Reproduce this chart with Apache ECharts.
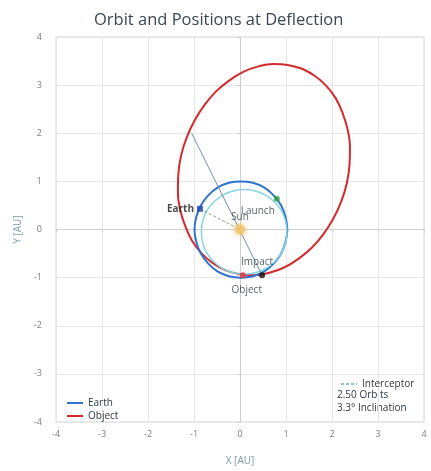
<!DOCTYPE html>
<html>
<head>
<meta charset="utf-8">
<script src="https://cdn.jsdelivr.net/npm/echarts@6/dist/echarts.min.js"></script>
<style>
  html, body { margin: 0; padding: 0; background: #ffffff; }
  #chart { width: 431px; height: 471px; }
</style>
</head>
<body>
<div id="chart"></div>
<script>
// Axis ticks (AU)
const axisTicks = [-4, -3, -2, -1, 0, 1, 2, 3, 4];

// Earth orbit, sampled every 15 degrees [x, y] in AU
const earthOrbit = [
  [1.03, 0], [0.99, 0.26], [0.89, 0.51], [0.73, 0.71], [0.53, 0.87], [0.28, 0.97],
  [0.02, 1.0], [-0.24, 0.97], [-0.49, 0.87], [-0.69, 0.71], [-0.85, 0.5], [-0.95, 0.26],
  [-0.99, 0], [-0.95, -0.26], [-0.85, -0.5], [-0.69, -0.71], [-0.49, -0.87], [-0.24, -0.97],
  [0.02, -1.0], [0.28, -0.97], [0.53, -0.87], [0.73, -0.71], [0.89, -0.51], [0.99, -0.26],
  [1.03, 0]
];

// Object (asteroid) orbit, sampled every 10 degrees of anomaly [x, y] in AU
const objectOrbit = [
  [1.35, 3.34], [1.04, 3.42], [0.72, 3.44], [0.40, 3.39], [0.08, 3.28], [-0.23, 3.10],
  [-0.52, 2.87], [-0.77, 2.59], [-0.99, 2.26], [-1.16, 1.91], [-1.28, 1.54], [-1.34, 1.15],
  [-1.35, 0.77], [-1.30, 0.41], [-1.19, 0.07], [-1.04, -0.24], [-0.83, -0.50], [-0.59, -0.70],
  [-0.31, -0.85], [0.00, -0.93], [0.32, -0.95], [0.64, -0.90], [0.96, -0.79], [1.27, -0.61],
  [1.56, -0.38], [1.81, -0.10], [2.03, 0.23], [2.20, 0.58], [2.32, 0.95], [2.38, 1.34],
  [2.39, 1.72], [2.34, 2.08], [2.23, 2.42], [2.08, 2.73], [1.87, 2.99], [1.63, 3.19],
  [1.35, 3.34]
];

// Interceptor orbit [x, y] in AU
const interceptorOrbit = [
  [1.02, -0.05], [0.99, 0.18], [0.90, 0.39], [0.75, 0.57], [0.56, 0.71], [0.33, 0.80],
  [0.09, 0.83], [-0.15, 0.80], [-0.38, 0.71], [-0.57, 0.57], [-0.72, 0.39], [-0.81, 0.18],
  [-0.84, -0.05], [-0.81, -0.28], [-0.72, -0.49], [-0.57, -0.67], [-0.38, -0.81], [-0.15, -0.90],
  [0.09, -0.93], [0.33, -0.90], [0.56, -0.81], [0.75, -0.67], [0.90, -0.49], [0.99, -0.28],
  [1.02, -0.05]
];

// Line across the Sun to the impact point
const deflectionLine = [[-1.05, 2.0], [0.48, -0.95]];
// Earth-to-Sun direction at launch
const earthSunLine = [[-0.87, 0.43], [0.0, 0.0]];

// Marked positions
const positionNames = ['Earth', 'Launch', 'Sun', 'Impact', 'Object'];
const positionX = [-0.87, 0.80, 0.0, 0.48, 0.06];
const positionY = [0.43, 0.64, 0.0, -0.95, -0.95];

// Notes shown under the interceptor key
const orbitNotes = ['2.50 Orbits', '3.3\u00b0 Inclination'];

const FONT = 'Open Sans';
const textDark = '#2b3945';

const markerStyle = {
  Earth:  { color: '#1f44b8', size: 6, symbol: 'rect', label: { position: 'left', distance: 3, fontWeight: 'bold', color: '#1a1a1a' } },
  Launch: { color: '#2e9a45', size: 6, symbol: 'circle', label: { position: 'bottom', offset: [-19, -1] } },
  Sun:    { color: '#f2c46a', size: 10, symbol: 'circle', label: { position: 'top', distance: 2 } },
  Impact: { color: '#111111', size: 6, symbol: 'circle', label: { position: 'top', offset: [-5, 0] } },
  Object: { color: '#d8343a', size: 6, symbol: 'circle', label: { position: 'bottom', offset: [4, 2] } }
};

const positionData = positionNames.map((name, i) => {
  const s = markerStyle[name];
  return {
    name: name,
    value: [positionX[i], positionY[i]],
    symbol: s.symbol,
    symbolSize: s.size,
    itemStyle: name === 'Sun'
      ? { color: s.color, shadowBlur: 6, shadowColor: '#f0b040' }
      : { color: s.color },
    label: Object.assign({
      show: true,
      formatter: '{b}',
      fontFamily: FONT,
      fontSize: 10,
      color: textDark
    }, s.label)
  };
});

const chart = echarts.init(document.getElementById('chart'), null, { renderer: 'canvas' });

const axisCommon = {
  type: 'value',
  min: axisTicks[0],
  max: axisTicks[axisTicks.length - 1],
  interval: 1,
  nameLocation: 'middle',
  nameTextStyle: { fontFamily: FONT, fontSize: 10, color: '#7a9aa6' },
  axisLine: { show: true, lineStyle: { color: '#cfcfcf', width: 1 } },
  axisTick: { show: true, length: 3, lineStyle: { color: '#cfcfcf' } },
  splitLine: { show: true, lineStyle: { color: '#e6e6e6', width: 1 } }
};

// flat line key icons
const solidKey = 'path://M0,0h16v2h-16z';
const dashedKey = 'path://M0,0h3v2h-3z M5,0h3v2h-3z M10,0h3v2h-3z M15,0h1v2h-1z';

chart.setOption({
  animation: false,
  backgroundColor: '#ffffff',
  title: {
    text: 'Orbit and Positions at Deflection',
    left: 89,
    top: 7,
    textStyle: { fontFamily: FONT, fontSize: 16.5, fontWeight: 'normal', color: '#3a4753' }
  },
  grid: {
    left: 56, right: 7, top: 37, bottom: 47,
    show: true, borderColor: '#d4d4d4', borderWidth: 1
  },
  xAxis: Object.assign({}, axisCommon, {
    name: 'X [AU]', nameGap: 34,
    axisLabel: { fontFamily: FONT, fontSize: 9, color: '#808080', margin: 8 }
  }),
  yAxis: Object.assign({}, axisCommon, {
    name: 'Y [AU]', nameGap: 30, nameRotate: 90,
    axisLabel: { fontFamily: FONT, fontSize: 9, color: '#808080', margin: 14 }
  }),
  legend: [
    {
      left: 62, top: 393, orient: 'vertical',
      itemWidth: 16, itemHeight: 2, itemGap: 3,
      icon: solidKey,
      textStyle: { fontFamily: FONT, fontSize: 10, color: textDark },
      data: ['Earth', 'Object']
    },
    {
      left: 336, top: 374, orient: 'vertical',
      itemWidth: 16, itemHeight: 2,
      textStyle: { fontFamily: FONT, fontSize: 10, color: textDark },
      data: [{ name: 'Interceptor', icon: dashedKey, itemStyle: { color: '#8fc4d4' } }]
    }
  ],
  graphic: orbitNotes.map((t, i) => ({
    type: 'text',
    left: 337,
    top: 390 + i * 13,
    style: { text: t, fontFamily: FONT, fontSize: 10, fill: textDark }
  })),
  series: [
    {
      name: 'Object', type: 'line', data: objectOrbit, smooth: 0.4, symbol: 'none',
      lineStyle: { color: '#d42a2e', width: 2 }, itemStyle: { color: '#d42a2e' }, z: 3
    },
    {
      name: 'Earth', type: 'line', data: earthOrbit, smooth: 0.4, symbol: 'none',
      lineStyle: { color: '#2f74cc', width: 2 }, itemStyle: { color: '#2f74cc' }, z: 4
    },
    {
      name: 'Interceptor', type: 'line', data: interceptorOrbit, smooth: 0.4, symbol: 'none',
      lineStyle: { color: '#86d4e4', width: 1.5 }, itemStyle: { color: '#86d4e4' }, z: 5
    },
    {
      name: 'deflection', type: 'line', data: deflectionLine, symbol: 'none',
      lineStyle: { color: '#6f92a4', width: 1 }, z: 6
    },
    {
      name: 'earth-sun', type: 'line', data: earthSunLine, symbol: 'none',
      lineStyle: { color: '#86a890', width: 1, type: [3, 2] }, z: 6
    },
    {
      name: 'positions', type: 'scatter', data: positionData, z: 10
    }
  ]
});
</script>
</body>
</html>
